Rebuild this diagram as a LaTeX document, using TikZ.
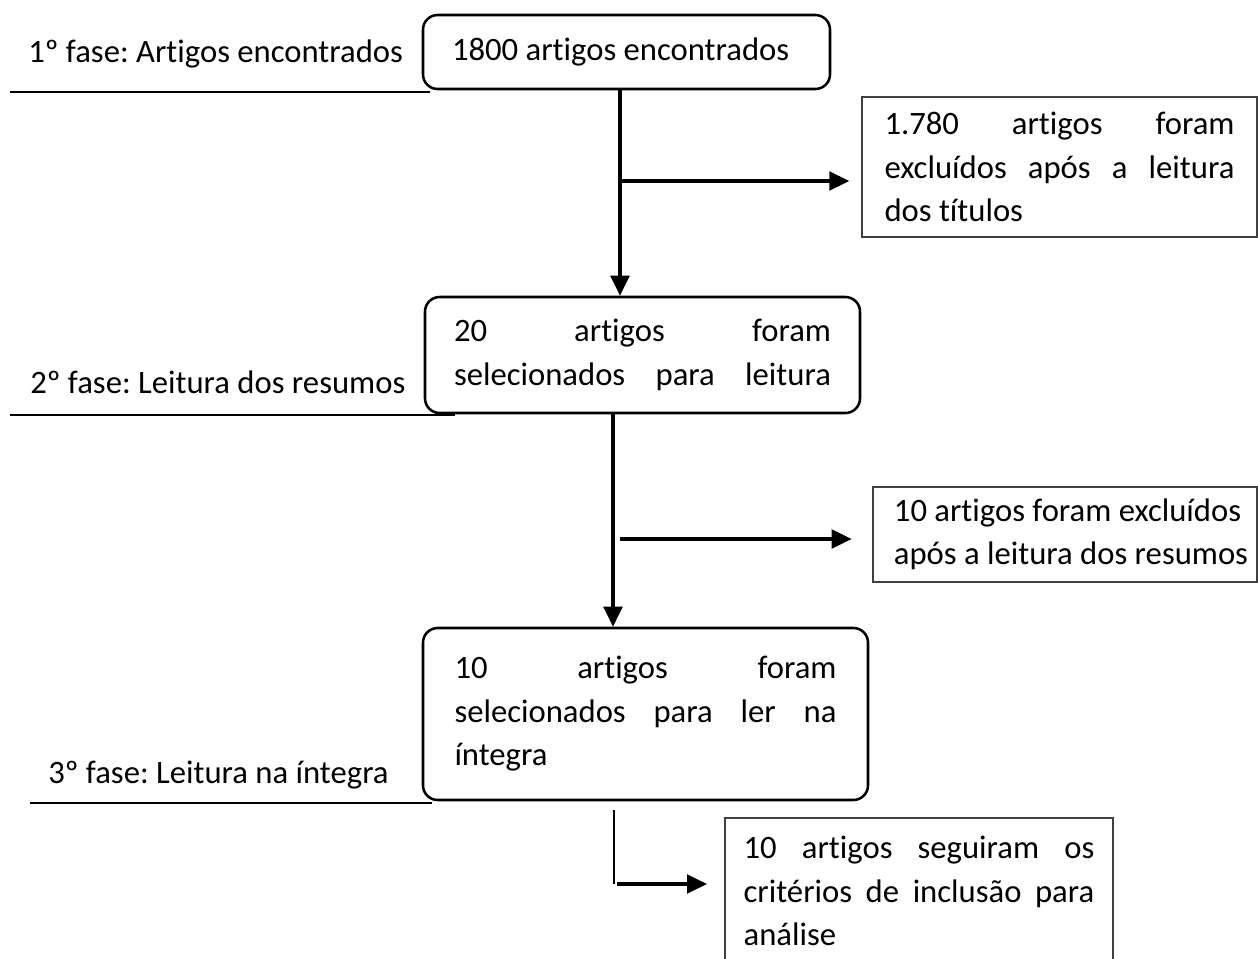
\documentclass[tikz,border=0pt]{standalone}
\usepackage{fontspec}
\setmainfont{Carlito}[Ligatures=NoCommon]
\frenchspacing
\usetikzlibrary{arrows.meta}
\begin{document}
\begin{tikzpicture}[x=0.75pt,y=-0.75pt,
  every node/.style={font=\fontsize{24.5pt}{32.6pt}\selectfont},
  rbox/.style={draw, line width=1.9pt, rounded corners=11pt, inner sep=0pt, align=left},
  sbox/.style={draw=black!75, line width=1pt, inner sep=0pt, align=left},
  arr/.style={line width=2.3pt, -{Triangle[length=15pt,width=14pt]}},
  thinline/.style={line width=1.1pt},
  lbl/.style={anchor=base west, inner sep=0pt}]
\useasboundingbox (0,0) rectangle (1258,958);

% phase labels and rules
\node[lbl] (p1) at (28,62) {1º fase: Artigos encontrados};
\node[lbl] (p2) at (30,393) {2º fase: Leitura dos resumos};
\node[lbl] (p3) at (48,783) {3º fase: Leitura na íntegra};
\coordinate (r1a) at (10,92);  \coordinate (r1b) at (430,92);
\coordinate (r2a) at (10,415); \coordinate (r2b) at (455,415);
\coordinate (r3a) at (30,803); \coordinate (r3b) at (432,803);
\draw[thinline] (r1a) -- (r1b);
\draw[thinline] (r2a) -- (r2b);
\draw[thinline] (r3a) -- (r3b);

% main boxes
\node[rbox, minimum width=305.25pt, minimum height=55.5pt] (b1) at (626.5,52)
  {\hbox to 261.75pt{1800 artigos encontrados\hfill}};
\node[rbox, minimum width=326.25pt, minimum height=87pt] (b2) at (642.5,355)
  {\hbox to 282.75pt{20\hfill artigos\hfill foram}\\
   \hbox to 282.75pt{selecionados\hfill para\hfill leitura}};
\node[rbox, minimum width=333.75pt, minimum height=129pt] (b3) at (645.5,714)
  {\hbox to 286.5pt{10\hfill artigos\hfill foram}\\
   \hbox to 286.5pt{selecionados\hfill para\hfill ler\hfill na}\\
   \hbox to 286.5pt{íntegra\hfill}};

% side boxes
\node[sbox, minimum width=296.25pt, minimum height=105pt] (e1) at (1059.5,167)
  {\hbox to 262.5pt{1.780\hfill artigos\hfill foram}\\
   \hbox to 262.5pt{excluídos\hfill após\hfill a\hfill leitura}\\
   \hbox to 262.5pt{dos títulos\hfill}};
\node[sbox, minimum width=288pt, minimum height=71.25pt] (e2) at (1065,534.5)
  {\hbox{\kern9pt 10 artigos foram excluídos}\\
   \hbox{\kern9pt após a leitura dos resumos}};
\node[sbox, minimum width=291pt, minimum height=109.5pt] (b4) at (919,891)
  {\hbox to 263pt{10\hfill artigos\hfill seguiram\hfill os}\\
   \hbox to 263pt{critérios\hfill de\hfill inclusão\hfill para}\\
   \hbox to 263pt{análise\hfill}};

% connectors
\coordinate (j1) at (620,181);
\draw[arr] (b1.south -| j1) -- (b2.north -| j1);
\draw[arr, shorten >=9pt] (j1) -- (e1.west |- j1);

\coordinate (j2) at (613,539);
\coordinate (k2) at (620,539);
\draw[arr] (b2.south -| j2) -- (b3.north -| j2);
\draw[arr, shorten >=15.5pt] (k2) -- (e2.west |- k2);

\coordinate (j3) at (614,810);
\coordinate (k3) at (614,884);
\coordinate (m3) at (617,884);
\draw[line width=1pt] (j3) -- (k3);
\draw[arr, shorten >=13pt] (m3) -- (b4.west |- m3);
\end{tikzpicture}
\end{document}
